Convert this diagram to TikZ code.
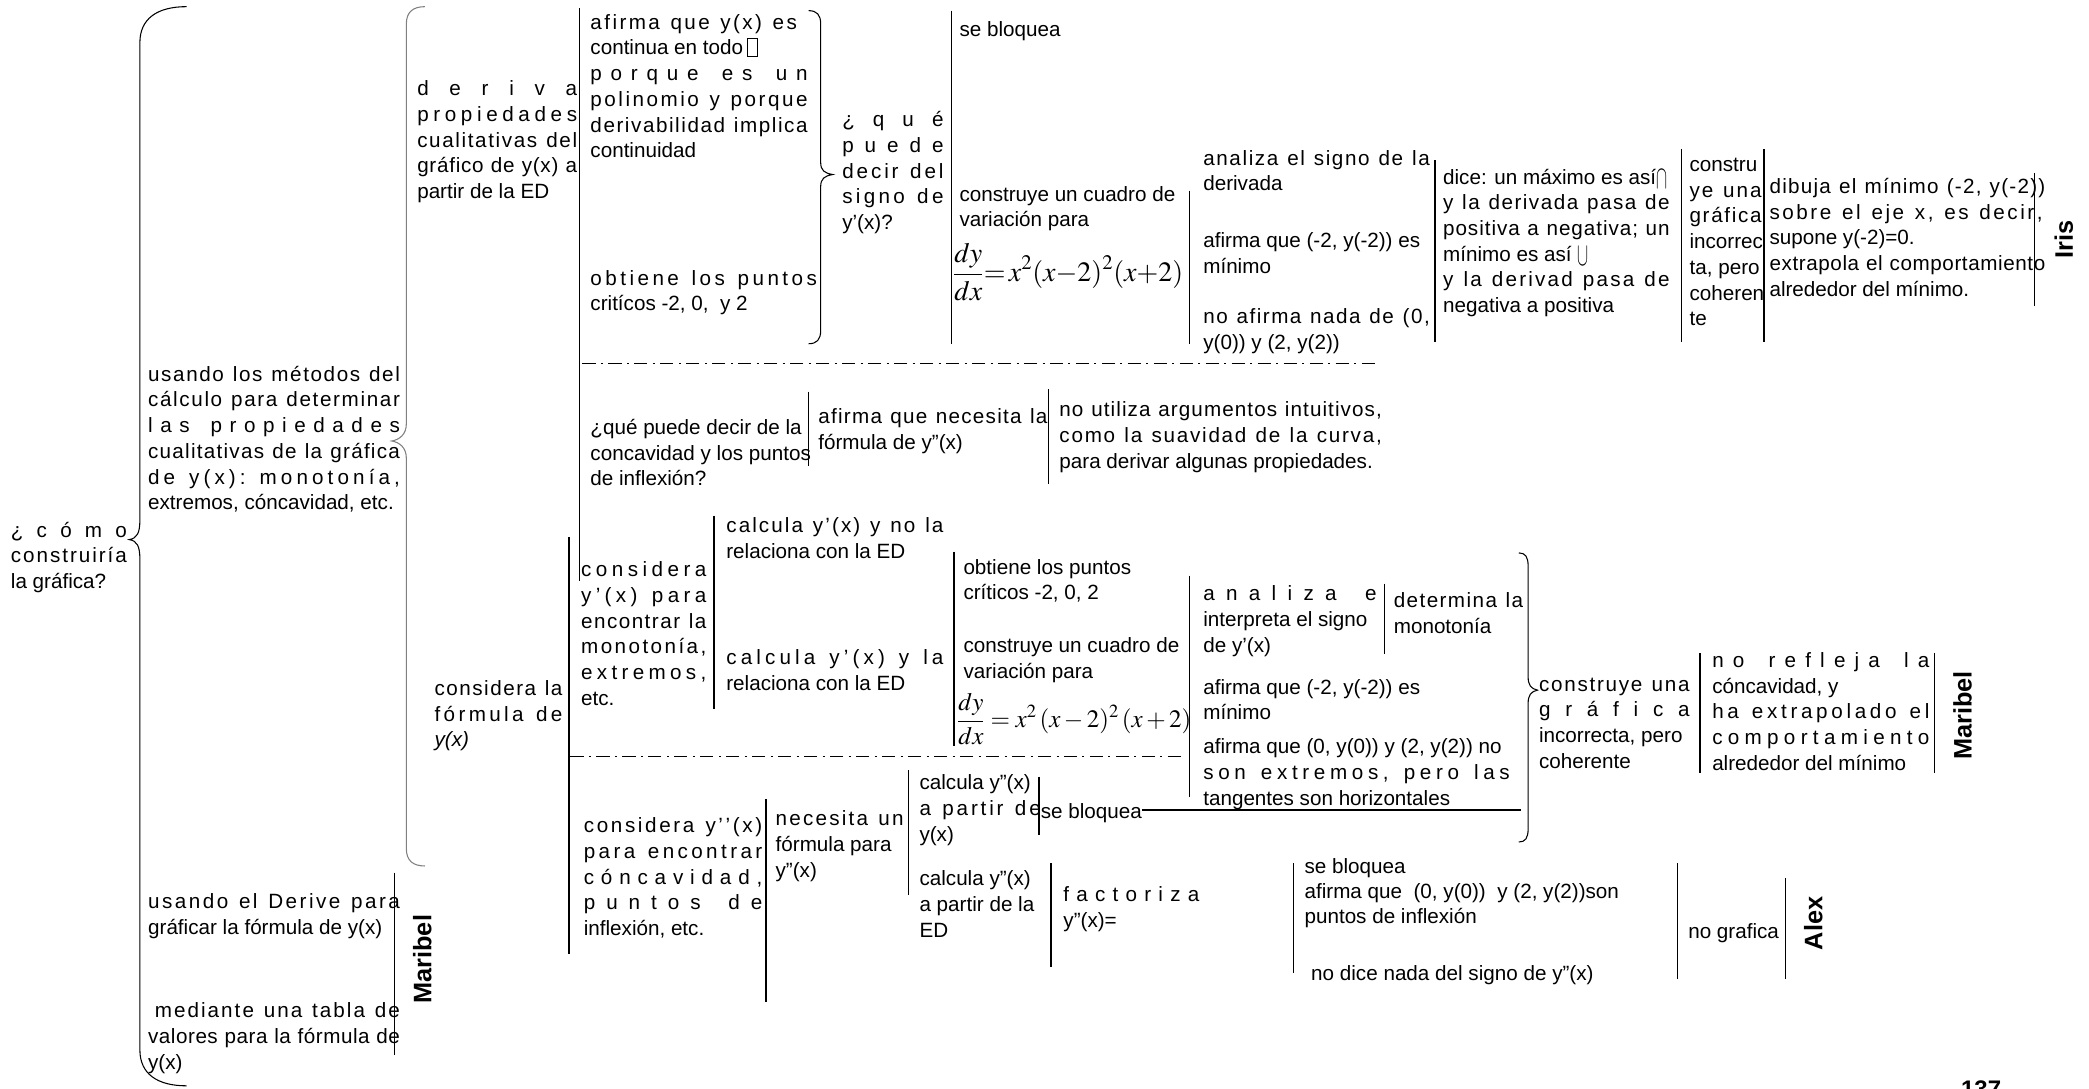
\documentclass[tikz,border=0pt]{standalone}
\usepackage{mathptmx}
\usepackage[no-math]{fontspec}
\setmainfont{Liberation Sans}
\usepackage{graphicx}
\newcommand{\fs}{\fontsize{15.5}{19.3}\selectfont}
% a line spread to a given width: equal extra room between letters, twice that between words
\XeTeXinterchartoks 0 0 = {\hfil}
\let\distend\relax
\def\distwords#1 #2\distend{#1\ifx\relax#2\relax\else\hfil\ \hfil\distwords#2\distend\fi}
\newcommand{\dist}[2]{\makebox[#1][s]{\XeTeXinterchartokenstate=1 \distwords#2 \distend}}
\newcommand{\tofu}{\hspace{3pt}\raisebox{-1pt}{\setlength{\fboxsep}{0pt}\setlength{\fboxrule}{0.5pt}\fbox{\rule{0pt}{13pt}\hspace{7pt}}}}
\newcommand{\capsym}{\raisebox{-3pt}{\scalebox{0.8}[1.6]{$\cap$}}}
\newcommand{\cupsym}{\raisebox{-3pt}{\scalebox{0.8}[1.6]{$\cup$}}}
\begin{document}
\begin{tikzpicture}[x=1pt,y=-1pt,
  txt/.style={anchor=north west, inner sep=0pt, align=left, font=\fs, execute at begin node=\strut},
  sep/.style={line width=1.1pt},
  brc/.style={line width=0.8pt},
  ddash/.style={line width=1.1pt, dash pattern=on 10pt off 4pt on 1.5pt off 4pt},
  who/.style={rotate=90, inner sep=0pt, font=\bfseries\fontsize{19}{22}\selectfont},
  eqn/.style={anchor=west, inner sep=0pt}]
\useasboundingbox (0,0) rectangle (1568,817);

% ---------- braces ----------
\draw[brc] (140,5) .. controls (118,5) and (105,14) .. (105,32) -- (105,390)
  .. controls (105,400) and (103,404) .. (97,405) .. controls (103,406) and (105,410) .. (105,420)
  -- (105,788) .. controls (105,806) and (118,815) .. (140,815);
\draw[brc, gray] (319,5) .. controls (310,5) and (305,9) .. (305,18) -- (305,318)
  .. controls (305,326) and (300,330) .. (294,331) .. controls (300,332) and (305,336) .. (305,344)
  -- (305,637) .. controls (305,646) and (310,650) .. (319,650);
\draw[brc] (607,8) .. controls (613,8) and (616,11) .. (616,18) -- (616,122)
  .. controls (616,128) and (619,130) .. (625,131) .. controls (619,132) and (616,134) .. (616,140)
  -- (616,248) .. controls (616,255) and (613,258) .. (607,258);
\draw[brc] (1140,415) .. controls (1145,415) and (1147,418) .. (1147,425) -- (1147,508)
  .. controls (1147,514) and (1149,517) .. (1154,518) .. controls (1149,519) and (1147,522) .. (1147,528)
  -- (1147,622) .. controls (1147,629) and (1145,632) .. (1140,632);

% ---------- root and first level ----------
\node[txt] (como) at (8,391.5) {\dist{87pt}{¿cómo}\\\dist{87pt}{construiría}\\la gráfica?};
\node[txt] (usando) at (111,274.5) {\dist{189pt}{usando los métodos del}\\
  \dist{189pt}{cálculo para determinar}\\
  \dist{189pt}{las propiedades}\\
  \dist{189pt}{cualitativas de la gráfica}\\
  \dist{189pt}{de y(x): monotonía,}\\
  extremos, cóncavidad, etc.};
\node[txt] (derive) at (111,670.5) {\dist{189pt}{usando el Derive para}\\gráficar la fórmula de y(x)};
\node[txt] (tabla) at (111,752.5) {\hspace*{5pt}\dist{184pt}{mediante una tabla de}\\\dist{189pt}{valores para la fórmula de}\\y(x)};
\draw[sep] (296,655) -- (296,792);
\node[who] (maribelA) at (317,720) {Maribel};

% ---------- second level ----------
\node[txt] (deriva) at (313,60.5) {\dist{120pt}{deriva}\\\dist{120pt}{propiedades}\\
  \dist{120pt}{cualitativas del}\\\dist{120pt}{gráfico de y(x) a}\\partir de la ED};
\node[txt] (formula) at (326,510.5) {\dist{96pt}{considera la}\\\dist{96pt}{fórmula de}\\\textit{y(x)}};
\draw[sep] (435,6) -- (435,436);
\draw[sep] (427,403) -- (427,716);
\draw[ddash] (437,273) -- (1035,273);
\draw[ddash] (428,568) -- (888,568);

% ---------- upper branch ----------
\node[txt] (continua) at (443,10.5) {\dist{155pt}{afirma que y(x) es}\\continua en todo\tofu\\
  \dist{163pt}{porque es un}\\\dist{163pt}{polinomio y porque}\\
  \dist{163pt}{derivabilidad implica}\\continuidad};
\node[txt] (criticos) at (443,202.5) {\dist{170pt}{obtiene los puntos}\\critícos -2, 0, \ y 2};
\node[txt] (signo) at (632,83.5) {\dist{76pt}{¿qué}\\\dist{76pt}{puede}\\\dist{76pt}{decir del}\\\dist{76pt}{signo de}\\y'(x)?};
\draw[sep] (714,8) -- (714,258);
\node[txt] (bloqA) at (720,13.5) {se bloquea};
\node[txt] (cuadroA) at (720,139.5) {construye un cuadro de\\variación para};
\node[eqn, font=\fontsize{21}{25}\selectfont] (eqA) at (715,204) {$\displaystyle\frac{dy}{dx}{=}\,x^{2}(x{-}2)^{2}(x{+}2)$};
\draw[sep] (893,143) -- (893,258);
\node[txt] (analizaA) at (903,112.5) {\dist{170pt}{analiza el signo de la}\\derivada};
\node[txt] (minA) at (903,174.5) {afirma que (-2, y(-2)) es\\mínimo};
\node[txt] (nada) at (903,231.5) {\dist{170pt}{no afirma nada de (0,}\\y(0)) y (2, y(2))};
\draw[sep] (1077,120) -- (1077,257);
\node[txt] (dice) at (1083,126.5) {dice: un máximo es así\capsym\\\dist{170pt}{y la derivada pasa de}\\
  \dist{170pt}{positiva a negativa; un}\\mínimo es así \cupsym\\\dist{170pt}{y la derivad pasa de}\\negativa a positiva};
\draw[sep] (1262,112) -- (1262,257);
\node[txt] (graficaA) at (1268,118.5) {constru\\\dist{54pt}{ye una}\\\dist{54pt}{gráfica}\\incorrec\\ta, pero\\coheren\\te};
\draw[sep] (1324,112) -- (1324,257);
\node[txt] (dibuja) at (1328,133.5) {\dist{207pt}{dibuja el mínimo (-2, y(-2))}\\\dist{205pt}{sobre el eje x, es decir,}\\
  supone y(-2)=0.\\\dist{207pt}{extrapola el comportamiento}\\alrededor del mínimo.};
\draw[sep] (1527,130) -- (1527,230);
\node[who] (iris) at (1549,180) {Iris};

\node[txt] (concav) at (443,314.5) {¿qué puede decir de la\\concavidad y los puntos\\de inflexión?};
\draw[sep] (607,294) -- (607,350);
\node[txt] (necesita) at (614,306.5) {\dist{172pt}{afirma que necesita la}\\fórmula de y''(x)};
\draw[sep] (787,292) -- (787,363);
\node[txt] (intuit) at (795,301.5) {\dist{242pt}{no utiliza argumentos intuitivos,}\\\dist{242pt}{como la suavidad de la curva,}\\para derivar algunas propiedades.};

% ---------- lower branch ----------
\node[txt] (monot) at (436,421.5) {\dist{94pt}{considera}\\\dist{94pt}{y'(x) para}\\
  \dist{94pt}{encontrar la}\\\dist{94pt}{monotonía,}\\\dist{94pt}{extremos,}\\etc.};
\draw[sep] (536,387) -- (536,532);
\node[txt] (calcA) at (545,388.5) {\dist{163pt}{calcula y'(x) y no la}\\relaciona con la ED};
\node[txt] (calcB) at (545,487.5) {\dist{163pt}{calcula y'(x) y la}\\relaciona con la ED};
\draw[sep] (716,414) -- (716,560);
\node[txt] (critB) at (723,419.5) {obtiene los puntos\\críticos -2, 0, 2};
\node[txt] (cuadroB) at (723,478.5) {construye un cuadro de\\variación para};
\node[eqn, font=\fontsize{18.8}{22}\selectfont] (eqB) at (718,540) {$\displaystyle\frac{dy}{dx} = x^{2}\,(x-2)^{2}\,(x+2)$};
\draw[sep] (893,432) -- (893,598);
\node[txt] (analizaB) at (903,439.5) {\dist{130pt}{analiza e}\\interpreta el signo\\de y'(x)};
\draw[sep] (1039,438) -- (1039,491);
\node[txt] (monoB) at (1046,444.5) {\dist{97pt}{determina la}\\monotonía};
\node[txt] (minB) at (903,509.5) {afirma que (-2, y(-2)) es\\mínimo};
\node[txt] (noext) at (903,554.5) {afirma que (0, y(0)) y (2, y(2)) no\\\dist{230pt}{son extremos, pero las}\\tangentes son horizontales};
\node[txt] (graficaB) at (1155,508.5) {\dist{113pt}{construye una}\\\dist{113pt}{gráfica}\\incorrecta, pero\\coherente};
\draw[sep] (1276,490) -- (1276,580);
\node[txt] (refleja) at (1285,489.5) {\dist{163pt}{no refleja la}\\cóncavidad, y\\\dist{163pt}{ha extrapolado el}\\
  \dist{163pt}{comportamiento}\\alrededor del mínimo};
\draw[sep] (1452,490) -- (1452,580);
\node[who] (maribelB) at (1473,537) {Maribel};

\node[txt] (concB) at (438,613.5) {\dist{134pt}{considera y''(x)}\\\dist{134pt}{para encontrar}\\
  \dist{134pt}{cóncavidad,}\\\dist{134pt}{puntos de}\\inflexión, etc.};
\draw[sep] (575,600) -- (575,752);
\node[txt] (necun) at (582,608.5) {\dist{96pt}{necesita un}\\fórmula para\\y''(x)};
\draw[sep] (682,578) -- (682,672);
\node[txt] (calcC) at (690,581.5) {calcula y''(x)\\\dist{91pt}{a partir de}\\y(x)};
\draw[sep] (780,583) -- (780,627);
\node[txt] (bloqB) at (781,600.5) {se bloquea};
\coordinate (hlend) at (1142,608);
\draw[sep] (bloqB.east |- hlend) -- (hlend);
\node[txt] (calcD) at (690,653.5) {calcula y''(x)\\a partir de la\\ED};
\draw[sep] (789,648) -- (789,726);
\node[txt] (factor) at (798,665.5) {\dist{102pt}{factoriza}\\y''(x)=};
\draw[sep] (971,648) -- (971,730);
\node[txt, font=\fontsize{15.5}{18.5}\selectfont] (bloqC) at (979,644.5) {se bloquea\\afirma que \ (0, y(0)) \ y (2, y(2))son\\puntos de inflexión};
\node[txt] (nodice) at (984,722.5) {no dice nada del signo de y''(x)};
\draw[sep] (1259,648) -- (1259,735);
\node[txt] (nograf) at (1267,690.5) {no grafica};
\draw[sep] (1340,659) -- (1340,735);
\node[who] (alex) at (1361,693) {Alex};

% page number, cut by the page edge
\node[anchor=north, inner sep=0pt, font=\bfseries\fontsize{18}{20}\selectfont] (pagenum) at (1487,811) {137};
\end{tikzpicture}
\end{document}
